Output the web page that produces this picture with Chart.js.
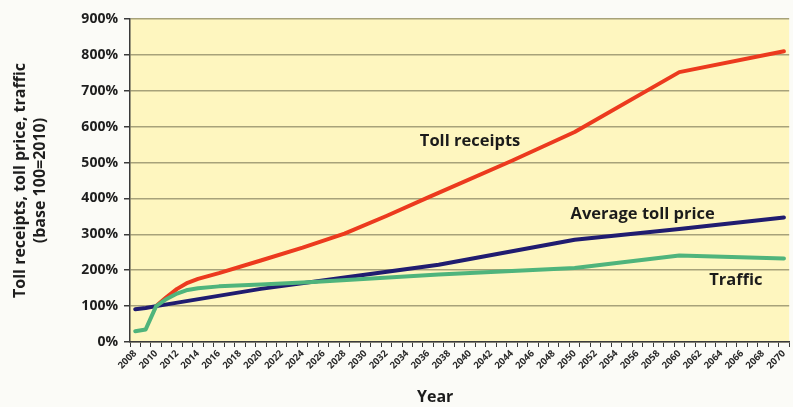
<!DOCTYPE html>
<html>
<head>
<meta charset="utf-8">
<script src="https://cdn.jsdelivr.net/npm/chart.js@4"></script>
<style>
    body { margin: 0; background: #fbfbf7; }
</style>
</head>
<body>
<canvas id="toll-chart" width="793" height="407"></canvas>
<script>
'use strict';

//CATEGORIES (ONE PER YEAR)
let years = [];
for (let y = 2008; y <= 2070; y++) {
    years.push(String(y));
}

//Y TICKS
let yTicks = [0, 100, 200, 300, 400, 500, 600, 700, 800, 900];

//SERIES (BASE 100 = 2010)
let receiptsYears  = [2010, 2011, 2012, 2013, 2014, 2016, 2020, 2024, 2028, 2032, 2036, 2044, 2050, 2060, 2070];
let receiptsValues = [100, 125, 148, 165, 176, 192, 227, 263, 302, 351, 403, 505, 585, 752, 810];

let priceYears  = [2008, 2009, 2010, 2020, 2028, 2037, 2050, 2060, 2070];
let priceValues = [91, 95, 100, 148, 180, 215, 285, 315, 347];

let trafficYears  = [2008, 2009, 2010, 2011, 2012, 2013, 2014, 2016, 2020, 2025, 2037, 2050, 2060, 2070];
let trafficValues = [30, 35, 100, 120, 135, 145, 150, 155, 160, 167, 188, 206, 241, 233];

//SERIES NAMES WRITTEN ON THE PLOT
let seriesNames = ['Toll receipts', 'Average toll price', 'Traffic'];

function points(xs, ys) {
    return xs.map(function (x, i) {
        return {x: String(x), y: ys[i]};
    });
}

//WHERE THE NAMES SIT (YEAR, PERCENT)
let namePlaces = [[2040, 560], [2056.5, 357], [2065.4, 173]];

const FONT = '"Open Sans", "DejaVu Sans", sans-serif';

let plotBackground = {
    id: 'plotBackground',
    beforeDraw: function (chart) {
        let a = chart.chartArea;
        let ctx = chart.ctx;
        ctx.save();
        ctx.fillStyle = '#fef6bf';
        ctx.fillRect(a.left, a.top, a.right - a.left, a.bottom - a.top);
        ctx.restore();
    }
};

let plotText = {
    id: 'plotText',
    afterDraw: function (chart) {
        let ctx = chart.ctx;
        let xs = chart.scales.x;
        let ys = chart.scales.y;
        ctx.save();
        ctx.fillStyle = '#1b1b1b';
        ctx.textAlign = 'center';
        ctx.textBaseline = 'middle';
        ctx.font = 'bold 16.5px ' + FONT;
        seriesNames.forEach(function (name, i) {
            let px = xs.getPixelForValue(namePlaces[i][0] - 2008);
            let py = ys.getPixelForValue(namePlaces[i][1]);
            ctx.fillText(name, px, py);
        });
        //X AXIS TITLE
        ctx.font = 'bold 16px ' + FONT;
        let a = chart.chartArea;
        ctx.fillText('Year', a.left + (a.right - a.left) * 0.463, 397);
        ctx.restore();
    }
};

new Chart(document.getElementById('toll-chart'), {
    type: 'line',
    data: {
        labels: years,
        datasets: [
            {
                label: seriesNames[2],
                data: points(trafficYears, trafficValues),
                borderColor: '#4fb47c',
                borderWidth: 4
            },
            {
                label: seriesNames[1],
                data: points(priceYears, priceValues),
                borderColor: '#201c70',
                borderWidth: 4
            },
            {
                label: seriesNames[0],
                data: points(receiptsYears, receiptsValues),
                borderColor: '#ec3a1e',
                borderWidth: 4
            }
        ]
    },
    options: {
        responsive: false,
        animation: false,
        devicePixelRatio: 1,
        layout: {padding: {top: 19, right: 0, left: 0, bottom: 0}},
        elements: {
            point: {radius: 0},
            line: {tension: 0, borderCapStyle: 'round', borderJoinStyle: 'round'}
        },
        plugins: {
            legend: {display: false},
            tooltip: {enabled: false}
        },
        scales: {
            x: {
                type: 'category',
                offset: true,
                afterFit: function (s) { s.height = 65; },
                grid: {
                    offset: true,
                    drawOnChartArea: false,
                    tickLength: 5,
                    tickColor: '#3a3a3a'
                },
                border: {color: '#3a3a3a', width: 1.5},
                ticks: {
                    autoSkip: false,
                    maxRotation: 45,
                    minRotation: 45,
                    padding: 1,
                    color: '#2a2a2a',
                    font: {family: FONT, size: 9.5, weight: 'bold'},
                    callback: function (value) {
                        let label = this.getLabelForValue(value);
                        return Number(label) % 2 === 0 ? label : '';
                    }
                }
            },
            y: {
                min: yTicks[0],
                max: yTicks[yTicks.length - 1],
                afterFit: function (s) { s.width = 130; },
                afterBuildTicks: function (s) {
                    s.ticks = yTicks.map(function (v) { return {value: v}; });
                },
                grid: {
                    color: '#a7a27a',
                    lineWidth: 1.5,
                    tickLength: 6,
                    tickColor: '#3a3a3a'
                },
                border: {color: '#3a3a3a', width: 1.5},
                ticks: {
                    padding: 6,
                    color: '#1e1e1e',
                    font: {family: FONT, size: 14, weight: 'bold'},
                    callback: function (v) { return v + '%'; }
                },
                title: {
                    display: true,
                    text: ['Toll receipts, toll price, traffic', '(base 100=2010)'],
                    color: '#1e1e1e',
                    font: {family: FONT, size: 16, weight: 'bold', lineHeight: 1.25},
                    padding: {top: 10, bottom: 0}
                }
            }
        }
    },
    plugins: [plotBackground, plotText]
});
</script>
</body>
</html>
